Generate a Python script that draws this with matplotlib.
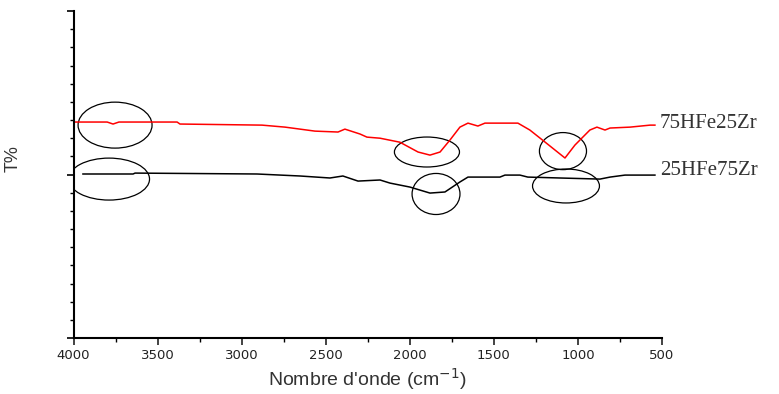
import numpy as np
import matplotlib.pyplot as plt
from matplotlib.patches import Ellipse

# wavenumber (cm-1) and transmittance (arbitrary units)
red_x = [4000, 3800, 3765, 3730, 3384, 3367, 2879, 2742, 2653, 2564, 2427, 2386, 2296,
         2255, 2177, 2059, 1951, 1880, 1820, 1761, 1702, 1654, 1595, 1553, 1357, 1286,
         1196, 1077, 1018, 929, 887, 839, 809, 690, 571, 542]
red_y = [11.89, 11.89, 11.78, 11.89, 11.89, 11.78, 11.72, 11.61, 11.50, 11.39, 11.34, 11.50, 11.23,
         11.06, 11.00, 10.78, 10.24, 10.07, 10.24, 10.90, 11.61, 11.83, 11.67, 11.83, 11.83, 11.45,
         10.79, 9.91, 10.62, 11.45, 11.61, 11.45, 11.56, 11.61, 11.72, 11.72]

black_x = [3944, 3646, 3634, 2909, 2653, 2475, 2398, 2308, 2177, 2118, 1999, 1880, 1791,
           1773, 1702, 1654, 1464, 1434, 1345, 1298, 1107, 869, 809, 720, 542]
black_y = [9.03, 9.03, 9.08, 9.03, 8.92, 8.81, 8.92, 8.64, 8.70, 8.53, 8.31, 7.98, 8.04,
           8.15, 8.59, 8.86, 8.86, 8.97, 8.97, 8.86, 8.81, 8.75, 8.86, 8.97, 8.97]

labels = ["75HFe25Zr", "25HFe75Zr"]
label_pos = [(513, 11.83), (513, 9.25)]

# highlighted bands: centre x, centre y, width, height
circles = [(3753, 11.72, 440, 2.53), (3789, 8.75, 482, 2.31),
           (1898, 10.24, 387, 1.65), (1844, 7.93, 285, 2.26),
           (1089, 10.29, 280, 2.04), (1071, 8.37, 398, 1.87)]

fig = plt.figure(figsize=(7.79, 3.94), dpi=100)
ax = fig.add_axes([0.0944, 0.142, 0.7554, 0.830])

ax.plot(red_x, red_y, color='red', lw=1.1)
ax.plot(black_x, black_y, color='black', lw=1.1)

for (cx, cy, w, h) in circles:
    ax.add_patch(Ellipse((cx, cy), w, h, fill=False, edgecolor='black', lw=0.9))

for t, (lx, ly) in zip(labels, label_pos):
    ax.text(lx, ly, t, family='Liberation Serif', fontsize=15, color='#333333',
            ha='left', va='center', clip_on=False)

ax.set_xlim(4000, 500)
ax.set_ylim(0, 18)
ax.set_xticks(np.arange(4000, 499, -500))
ax.set_xticks(np.arange(3750, 500, -500), minor=True)
ax.set_yticks([0, 9, 18])
ax.set_yticks(np.arange(0, 19, 1), minor=True)
ax.set_yticklabels([])
ax.tick_params(axis='x', which='major', length=5, width=1.2, labelsize=9.5,
               colors='#222222', pad=3)
ax.tick_params(axis='x', which='minor', length=3, width=1.0)
ax.tick_params(axis='y', which='major', length=5, width=1.2)
ax.tick_params(axis='y', which='minor', length=3, width=1.0)

for s in ['top', 'right']:
    ax.spines[s].set_visible(False)
for s in ['left', 'bottom']:
    ax.spines[s].set_linewidth(1.5)

ax.set_xlabel("Nombre d'onde (cm$^{-1}$)", family='Liberation Sans', fontsize=14,
              color='#333333')
ax.xaxis.set_label_coords(0.5, -0.085)
ax.set_ylabel("T%", family='Liberation Sans', fontsize=13, color='#333333')
ax.yaxis.set_label_coords(-0.089, 0.55)

fig.savefig('out.png', dpi=100)
